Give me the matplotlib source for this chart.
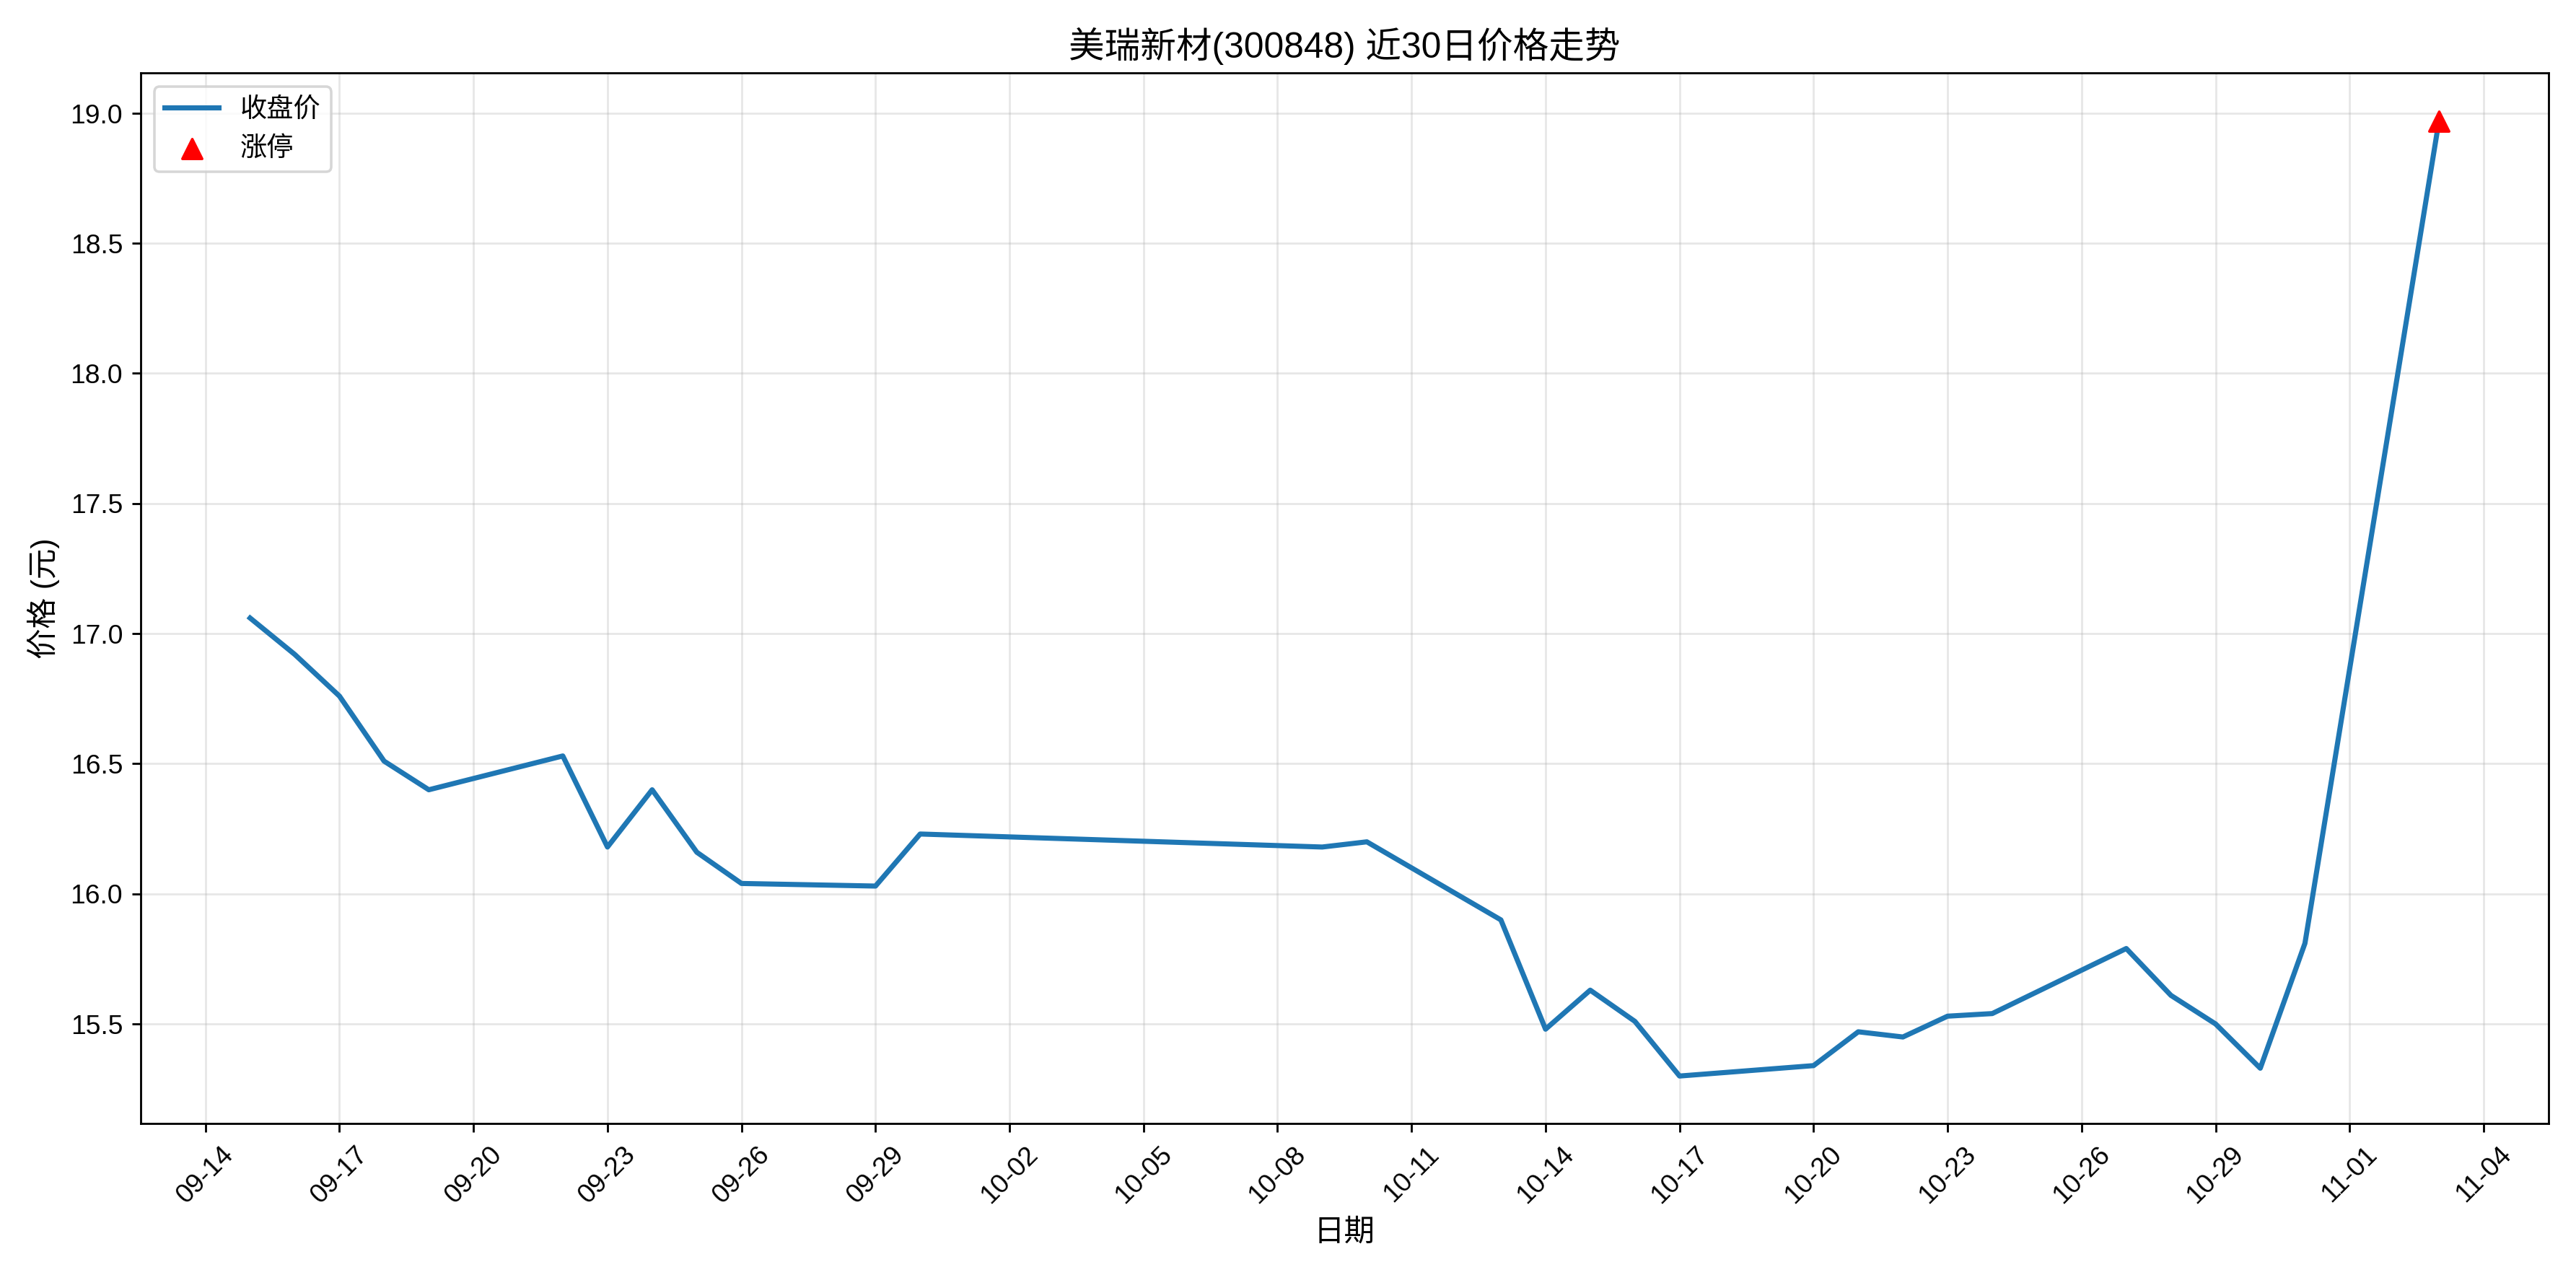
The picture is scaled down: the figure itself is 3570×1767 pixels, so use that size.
import matplotlib
matplotlib.use("Agg")
import matplotlib.pyplot as plt
import matplotlib.dates as mdates
import pandas as pd

plt.rcParams["font.family"] = ["Liberation Sans", "Noto Sans CJK SC", "DejaVu Sans"]

dates = [
    "2025-09-15", "2025-09-16", "2025-09-17", "2025-09-18", "2025-09-19",
    "2025-09-22", "2025-09-23", "2025-09-24", "2025-09-25", "2025-09-26",
    "2025-09-29", "2025-09-30", "2025-10-09", "2025-10-10", "2025-10-13",
    "2025-10-14", "2025-10-15", "2025-10-16", "2025-10-17", "2025-10-20",
    "2025-10-21", "2025-10-22", "2025-10-23", "2025-10-24", "2025-10-27",
    "2025-10-28", "2025-10-29", "2025-10-30", "2025-10-31", "2025-11-03",
]
close = [
    17.06, 16.92, 16.76, 16.51, 16.40,
    16.53, 16.18, 16.40, 16.16, 16.04,
    16.03, 16.23, 16.18, 16.20, 15.90,
    15.48, 15.63, 15.51, 15.30, 15.34,
    15.47, 15.45, 15.53, 15.54, 15.79,
    15.61, 15.50, 15.33, 15.81, 18.97,
]
limit_up_dates = ["2025-11-03"]
limit_up_prices = [18.97]

x = pd.to_datetime(dates)
fig, ax = plt.subplots(figsize=(14, 6.93), dpi=255)
ax.plot(x, close, color="#1f77b4", linewidth=2, label="收盘价")
ax.scatter(pd.to_datetime(limit_up_dates), limit_up_prices, color="red",
           marker="^", s=60, zorder=5, label="涨停")

ax.set_title("美瑞新材(300848) 近30日价格走势", fontsize=14)
ax.set_xlabel("日期", fontsize=12)
ax.set_ylabel("价格 (元)", fontsize=12)
ax.set_xticks(pd.date_range("2025-09-14", "2025-11-04", freq="3D"))
ax.xaxis.set_major_formatter(mdates.DateFormatter("%m-%d"))
ax.tick_params(axis="both", labelsize=10.5)
ax.tick_params(axis="x", rotation=45)
ax.grid(True, alpha=0.3)
ax.legend(loc="upper left", fontsize=10.5)
fig.tight_layout()
fig.savefig("out.png", dpi=255)
